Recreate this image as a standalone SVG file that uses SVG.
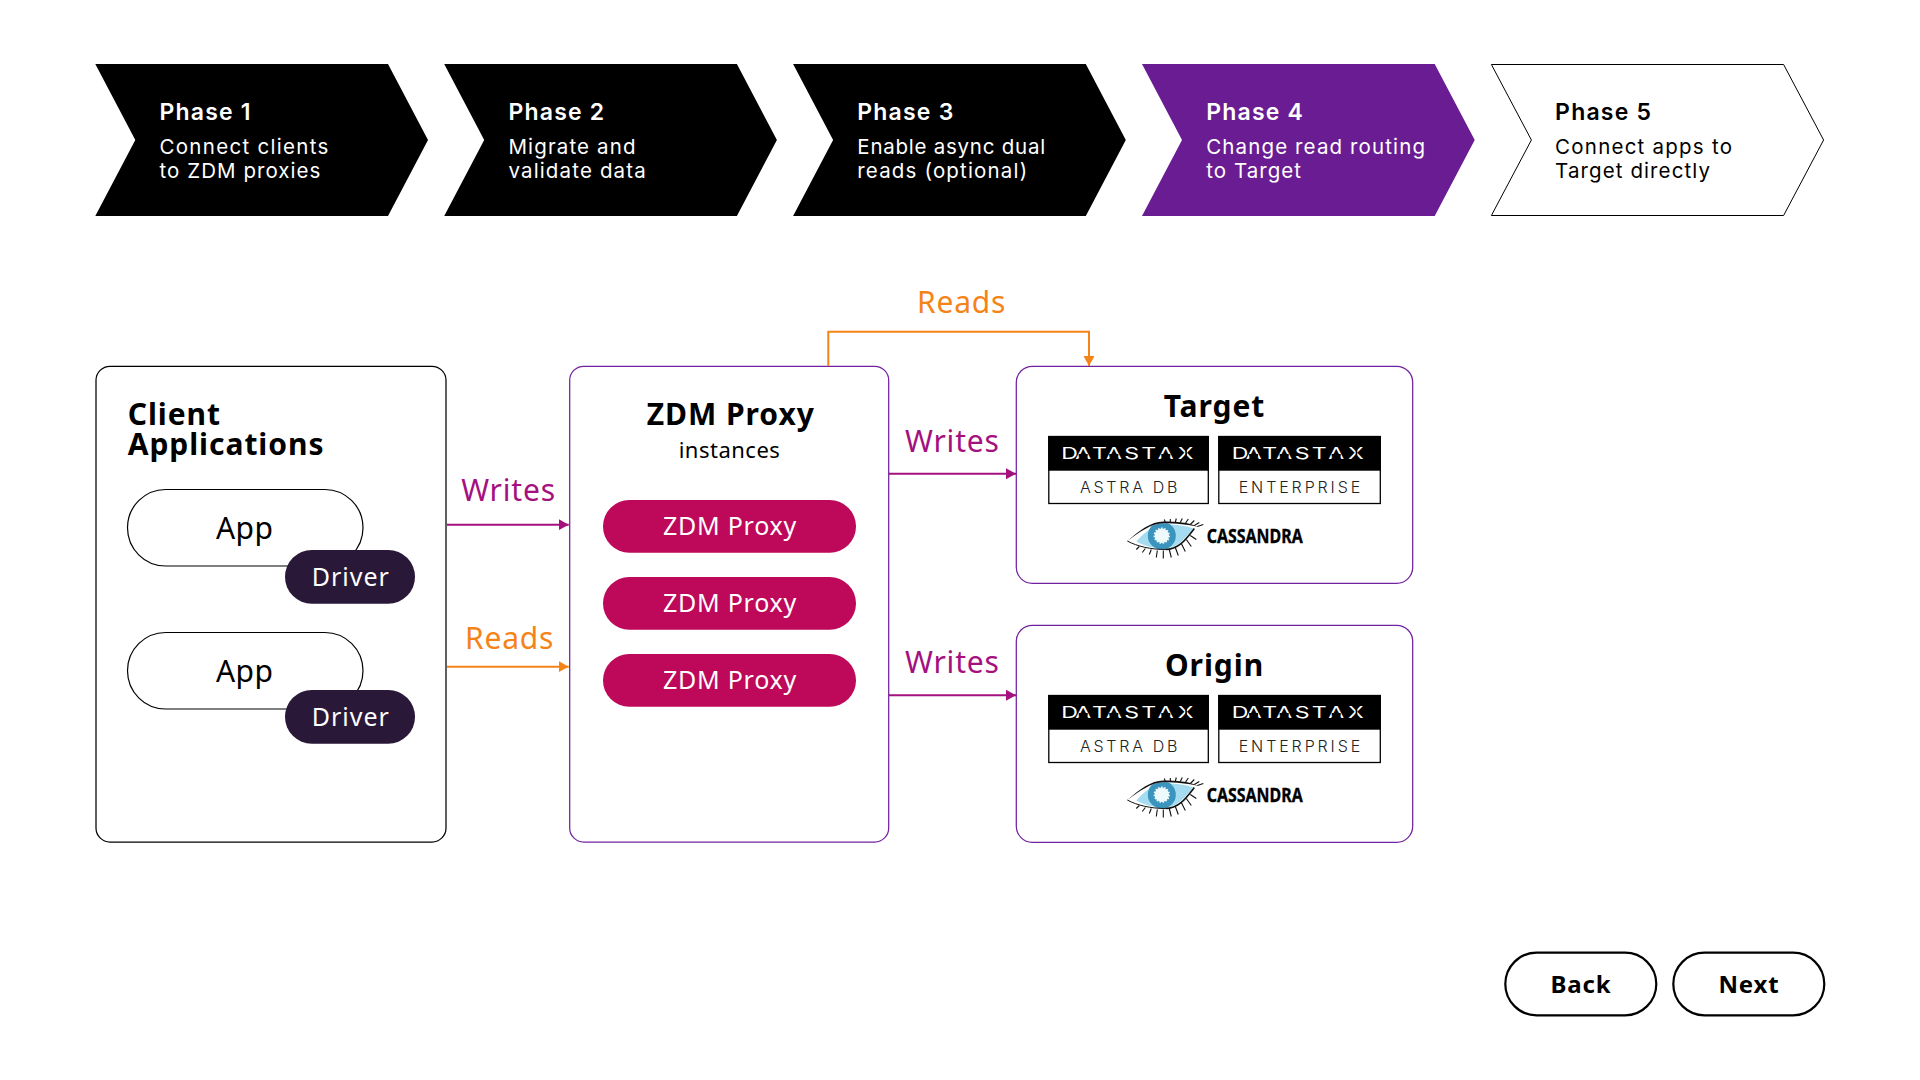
<svg xmlns="http://www.w3.org/2000/svg" width="1920" height="1080" viewBox="0 0 1920 1080">
<style>
text{font-family:"Noto Sans","Open Sans",sans-serif}
.pt{font-family:Inter,"Noto Sans",sans-serif;font-size:23px;font-weight:600;letter-spacing:1.2px}
.pb{font-family:Inter,"Noto Sans",sans-serif;font-size:20.5px;letter-spacing:1.15px}
.w{fill:#fff}.k{fill:#000}
.box{fill:#fff;stroke:#7122a0;stroke-width:1.25}
.h{font-size:30px;font-weight:700;fill:#000;letter-spacing:.95px}
.c{text-anchor:middle}
.app{fill:#fff;stroke:#000;stroke-width:1.2}
.apt{font-size:30px;fill:#000;text-anchor:middle;letter-spacing:.5px}
.drv{fill:#2a1838}
.zp{fill:#be0859}
.lab{font-size:25px;fill:#fff;letter-spacing:1px}
.zl{font-size:25px;fill:#fff;letter-spacing:.75px}
.wr{font-size:30px;fill:#a5107f;letter-spacing:.8px}
.rd{font-size:30px;fill:#f58418;letter-spacing:.8px}
.cw{fill:none;stroke:#a5107f;stroke-width:2}
.cr{fill:none;stroke:#f58418;stroke-width:2}
.btn{fill:#fff;stroke:#000;stroke-width:2.2}
.bt{font-size:24px;font-weight:700;fill:#000;letter-spacing:.8px}
.dxb{fill:#fff;stroke:#000;stroke-width:1.3}
.dx{font-family:Inter,sans-serif;font-size:16.5px;font-weight:400;fill:#fff}
.ds{font-family:Inter,sans-serif;font-size:16px;font-weight:300;fill:#222}
.cs{font-size:20px;font-weight:700;fill:#000;stroke:#000;stroke-width:.35}
.lash{stroke:#111;stroke-width:1.1;fill:none}
</style>
<defs>
<marker id="aw" markerWidth="11" markerHeight="12" refX="10" refY="6" markerUnits="userSpaceOnUse" orient="auto"><path d="M0 0.5L10 6L0 11.5z" fill="#a5107f"/></marker>
<marker id="ar" markerWidth="11" markerHeight="12" refX="10" refY="6" markerUnits="userSpaceOnUse" orient="auto"><path d="M0 0.5L10 6L0 11.5z" fill="#f58418"/></marker>
<clipPath id="ec"><path d="M0 15.5C12 7 24 -2.2 36 -2.2C50 -2.2 60 -1 71 1.5C62 12 52 24 38 24C24 24 10 21 0 15.5z"/></clipPath>
<g id="eye">
<path d="M0 15.5C12 7 24 -2.2 36 -2.2C50 -2.2 60 -1 71 1.5C62 12 52 24 38 24C24 24 10 21 0 15.5z" fill="#fff"/>
<path d="M9 16C17 7 26 -1 38 -1C50 -1 58 0 66 3C58 12 50 23 38 23C28 23 18 21 9 16z" fill="#a6dcf2"/>
<g clip-path="url(#ec)"><circle cx="34.5" cy="10.2" r="14" fill="#3a94bd"/></g>
<circle cx="34.5" cy="10.2" r="7.2" fill="#eef9fc" stroke="#eef9fc" stroke-width="2" stroke-dasharray="1.5 1.5"/>
<path d="M0 15.5C12 7 24 -2.2 36 -2.2C50 -2.2 60 -1 71 1.5C60 -3.5 50 -4 36 -4C24 -4 12 5 0 15.5z" fill="#111"/>
<path d="M0 15.5C10 21 24 24 38 24" fill="none" stroke="#111" stroke-width="1"/>
<path d="M38 24C52 24 60 12 67 3" fill="none" stroke="#111" stroke-width="1.6"/>
<path class="lash" d="M38 -3L37 -6M43 -3L43 -6.5M48 -3L49 -7M53 -3L55 -7M58 -2L61 -6.5M63 -1L67 -5M67 0L72 -3M70 1L76 -1M12 21L9 24M18 23L15 27M24 24L22 29M30 25L29 32M36 25L36 33M42 24L44 32M48 22L51 30M54 18L58 26M59 14L64 21M63 10L69 14"/>
</g>
<g id="dxm">
<text class="dx" transform="scale(1.4 1)" x="0 10 21.9 31.9 45 57.1 68.9 83.1" y="0">DATASTAX</text>
<path class="k" d="M17.4 -5h9v2.7h-9zM48 -5h9v2.7h-9zM100 -5h9v2.7h-9zM124 -13h1.6v14h-1.6z"/>
</g>
<g id="dbs">
<rect class="dxb" x="1048.8" y="0.5" width="159.5" height="67"/>
<rect x="1048.2" width="160.6" height="34.7" class="k"/>
<use href="#dxm" x="1061.3" y="23"/>
<text class="ds" x="1080" y="57.3" textLength="97.5">ASTRA DB</text>
<rect class="dxb" x="1218.8" y="0.5" width="161.5" height="67"/>
<rect x="1218.2" width="162.6" height="34.7" class="k"/>
<use href="#dxm" x="1231.7" y="23"/>
<text class="ds" x="1238.7" y="57.3" textLength="121.5">ENTERPRISE</text>
<use href="#eye" x="1127.3" y="89.5"/>
<text class="cs" x="1206.7" y="106.7" textLength="96" lengthAdjust="spacingAndGlyphs">CASSANDRA</text>
</g>
</defs>
<rect width="1920" height="1080" fill="#fff"/>

<g id="phase1"><path class="k" d="M95.3 64H388L428 140L388 216H95.3L135.3 140z"/><text class="pt w" x="159.5" y="120.3">Phase 1</text><text class="pb w" x="159.5" y="154.3" textLength="170">Connect clients</text><text class="pb w" x="159.5" y="178.3" textLength="162">to ZDM proxies</text></g>
<g id="phase2" transform="translate(348.9 0)"><path class="k" d="M95.3 64H388L428 140L388 216H95.3L135.3 140z"/><text class="pt w" x="159.5" y="120.3">Phase 2</text><text class="pb w" x="159.5" y="154.3">Migrate and</text><text class="pb w" x="159.5" y="178.3">validate data</text></g>
<g id="phase3" transform="translate(697.8 0)"><path class="k" d="M95.3 64H388L428 140L388 216H95.3L135.3 140z"/><text class="pt w" x="159.5" y="120.3">Phase 3</text><text class="pb w" x="159.5" y="154.3" textLength="189">Enable async dual</text><text class="pb w" x="159.5" y="178.3" textLength="171">reads (optional)</text></g>
<g id="phase4" transform="translate(1046.7 0)"><path fill="#6a1d92" d="M95.3 64H388L428 140L388 216H95.3L135.3 140z"/><text class="pt w" x="159.5" y="120.3">Phase 4</text><text class="pb w" x="159.5" y="154.3" textLength="220">Change read routing</text><text class="pb w" x="159.5" y="178.3" textLength="96">to Target</text></g>
<g id="phase5" transform="translate(1395.6 0)"><path fill="#fff" stroke="#000" stroke-width="1" d="M95.8 64.5H388L428 140L388 215.5H95.8L135.8 140z"/><text class="pt k" x="159.5" y="120.3">Phase 5</text><text class="pb k" x="159.5" y="154.3" textLength="178">Connect apps to</text><text class="pb k" x="159.5" y="178.3" textLength="156">Target directly</text></g>

<g id="client"><rect x="96" y="366.3" width="350" height="475.7" rx="14" fill="#fff" stroke="#000" stroke-width="1.25"/><text class="h" x="127.7" y="425">Client</text><text class="h" x="127.7" y="455">Applications</text></g>
<g id="app1"><rect class="app" x="127.5" y="489.5" width="235.5" height="76.5" rx="38.2"/><text x="244.7" y="539" class="apt">App</text></g>
<g id="driver1"><rect class="drv" x="285" y="550" width="130" height="53.7" rx="26.8"/><text class="lab c" x="350.8" y="586">Driver</text></g>
<g id="app2"><rect class="app" x="127.5" y="632.5" width="235.5" height="76.5" rx="38.2"/><text x="244.7" y="681.7" class="apt">App</text></g>
<g id="driver2"><rect class="drv" x="285" y="690" width="130" height="53.7" rx="26.8"/><text class="lab c" x="350.8" y="726">Driver</text></g>

<g id="proxy"><rect class="box" x="569.7" y="366.3" width="319" height="475.7" rx="14"/><text class="h c" x="730.8" y="425">ZDM Proxy</text><text x="729.5" y="458.3" class="c" font-size="22" letter-spacing=".5" fill="#000">instances</text></g>
<g id="zdm1"><rect class="zp" x="603" y="500" width="253" height="52.7" rx="26.3"/><text class="zl c" x="730" y="535">ZDM Proxy</text></g>
<g id="zdm2"><rect class="zp" x="603" y="577" width="253" height="52.7" rx="26.3"/><text class="zl c" x="730" y="612">ZDM Proxy</text></g>
<g id="zdm3"><rect class="zp" x="603" y="654" width="253" height="52.7" rx="26.3"/><text class="zl c" x="730" y="689">ZDM Proxy</text></g>

<g id="target"><rect class="box" x="1016.3" y="366.3" width="396.4" height="217" rx="16"/><text class="h c" x="1214.5" y="416.7">Target</text><use href="#dbs" y="436"/></g>
<g id="origin"><rect class="box" x="1016.3" y="625.3" width="396.4" height="217" rx="16"/><text class="h c" x="1214.5" y="676">Origin</text><use href="#dbs" y="695"/></g>

<g id="connectors">
<path class="cw" d="M447 524.7H568.7" marker-end="url(#aw)"/>
<path class="cr" d="M447 666.7H568.7" marker-end="url(#ar)"/>
<path class="cw" d="M889 473.7H1016" marker-end="url(#aw)"/>
<path class="cw" d="M889 695.3H1016" marker-end="url(#aw)"/>
<path class="cr" d="M828.3 366V331.7H1089V366" marker-end="url(#ar)"/>
</g>
<g id="connector-labels">
<text class="wr" x="461.2" y="500.5">Writes</text>
<text class="rd" x="465" y="649.3">Reads</text>
<text class="wr" x="905" y="451.7">Writes</text>
<text class="wr" x="905" y="673.3">Writes</text>
<text class="rd" x="917" y="312.7">Reads</text>
</g>

<g id="back"><rect class="btn" x="1505.3" y="952.7" width="151" height="62.6" rx="31.3"/><text class="bt c" x="1581" y="992.7">Back</text></g>
<g id="next"><rect class="btn" x="1673.3" y="952.7" width="151" height="62.6" rx="31.3"/><text class="bt c" x="1749" y="992.7">Next</text></g>
</svg>
